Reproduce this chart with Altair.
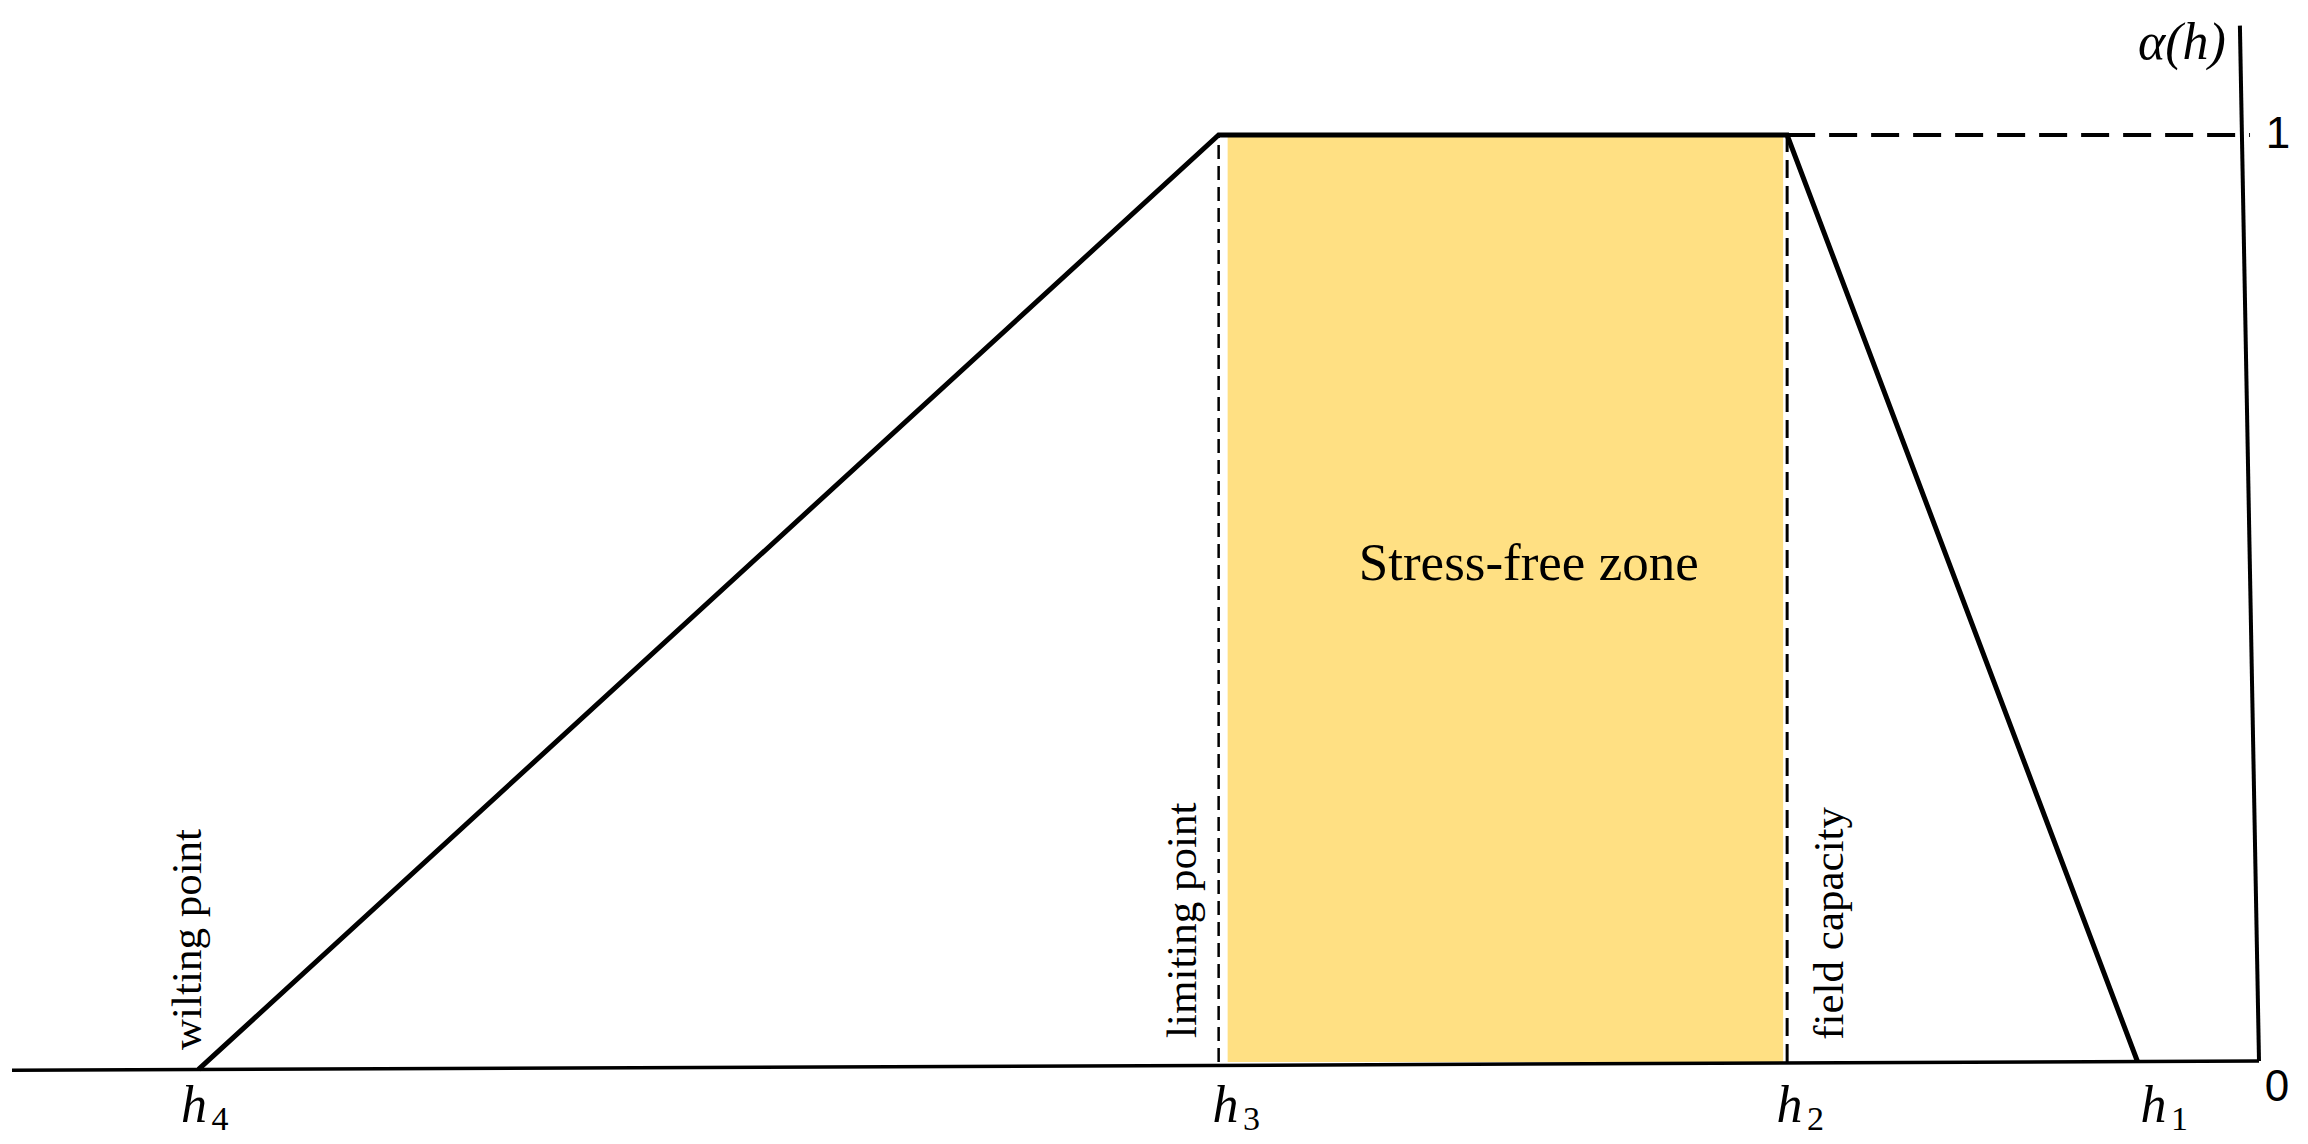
import altair as alt
import pandas as pd

# Schematic units: x = pressure head h (right axis h = 0 at x = 0, left end of baseline at -100)
# y = alpha(h), 0..1
h_names = ["h", "h", "h", "h"]
h_subs = ["4", "3", "2", "1"]
h_pos = [-91.7, -46.3, -21.0, -5.4]
h_label_x = [-91.9, -46.0, -20.9, -4.7]
h_label_y = [-0.065, -0.065, -0.065, -0.065]

curve_x = [-91.7, -46.3, -21.0, -5.4]
curve_y = [-0.008, 1.0, 1.0, 0.0]

base_x = [-100.0, 0.0]
base_y = [-0.009, 0.001]

axis_x = [0.0, -0.85]
axis_y = [0.001, 1.118]

zone_x = [-46.3, -21.0]
zone_y = [0.0, 1.0]

top_dash_x = [-21.0, -0.4]
top_dash_y = [1.0, 1.0]

vert_text = ["wilting point", "limiting point", "field capacity"]
vert_x = [-92.15, -47.9, -19.1]
vert_y = [0.013, 0.026, 0.024]

tick_text = ["0", "1"]
tick_x = [0.8, 0.85]
tick_y = [-0.028, 1.0]

zone_label = ["Stress-free zone"]
zone_label_x = [-32.5]
zone_label_y = [0.537]

ylab_text = ["α(h)"]
ylab_x = [-3.43]
ylab_y = [1.099]

XS = alt.Scale(domain=[-100, 0], range=[4, 2251], nice=False, zero=False)
YS = alt.Scale(domain=[0, 1], range=[1054, 127], nice=False, zero=False)


def X(f="x"):
    return alt.X(f"{f}:Q", scale=XS, axis=None)


def Y(f="y"):
    return alt.Y(f"{f}:Q", scale=YS, axis=None)


zone_df = pd.DataFrame({"x": [zone_x[0]], "x2": [zone_x[1]], "y": [zone_y[0]], "y2": [zone_y[1]]})
zone = alt.Chart(zone_df).mark_rect(color="#FFE083", xOffset=9, x2Offset=-4).encode(
    x=X(), x2="x2:Q", y=Y(), y2="y2:Q"
)

v_df3 = pd.DataFrame({"x": [h_pos[1]], "y": [0.0], "y2": [1.0]})
v3 = alt.Chart(v_df3).mark_rule(color="black", strokeWidth=2.5, strokeDash=[14, 7]).encode(
    x=X(), y=Y(), y2="y2:Q"
)
v_df2 = pd.DataFrame({"x": [h_pos[2]], "y": [0.0], "y2": [1.0]})
v2 = alt.Chart(v_df2).mark_rule(color="black", strokeWidth=3, strokeDash=[18, 8]).encode(
    x=X(), y=Y(), y2="y2:Q"
)

td_df = pd.DataFrame({"x": [top_dash_x[0]], "x2": [top_dash_x[1]], "y": [top_dash_y[0]]})
topdash = alt.Chart(td_df).mark_rule(color="black", strokeWidth=4, strokeDash=[28, 14]).encode(
    x=X(), x2="x2:Q", y=Y()
)

base_df = pd.DataFrame({"x": [base_x[0]], "x2": [base_x[1]], "y": [base_y[0]], "y2": [base_y[1]]})
base = alt.Chart(base_df).mark_rule(color="black", strokeWidth=3.5).encode(
    x=X(), x2="x2:Q", y=Y(), y2="y2:Q"
)

ax_df = pd.DataFrame({"x": [axis_x[0]], "x2": [axis_x[1]], "y": [axis_y[0]], "y2": [axis_y[1]]})
axl = alt.Chart(ax_df).mark_rule(color="black", strokeWidth=4).encode(
    x=X(), x2="x2:Q", y=Y(), y2="y2:Q"
)

curve_df = pd.DataFrame({"x": curve_x, "y": curve_y, "o": list(range(len(curve_x)))})
curve = alt.Chart(curve_df).mark_line(color="black", strokeWidth=5, strokeJoin="miter").encode(
    x=X(), y=Y(), order="o:Q"
)

vt_df = pd.DataFrame({"t": vert_text, "x": vert_x, "y": vert_y})
vt = alt.Chart(vt_df).mark_text(
    angle=270, align="left", baseline="middle", font="Liberation Serif", fontSize=43, color="black"
).encode(x=X(), y=Y(), text="t:N")

hl_df = pd.DataFrame({"t": h_names, "s": h_subs, "x": h_label_x, "y": h_label_y})
hl = alt.Chart(hl_df).mark_text(
    align="center", baseline="alphabetic", font="Liberation Serif", fontStyle="italic",
    fontSize=52, color="black"
).encode(x=X(), y=Y(), text="t:N")
hs = alt.Chart(hl_df).mark_text(
    align="center", baseline="alphabetic", font="Liberation Serif", fontSize=34,
    color="black", dx=26, dy=8
).encode(x=X(), y=Y(), text="s:N")

tk_df = pd.DataFrame({"t": tick_text, "x": tick_x, "y": tick_y})
tk = alt.Chart(tk_df).mark_text(
    align="center", baseline="middle", font="Liberation Sans", fontSize=44, color="black"
).encode(x=X(), y=Y(), text="t:N")

zl_df = pd.DataFrame({"t": zone_label, "x": zone_label_x, "y": zone_label_y})
zl = alt.Chart(zl_df).mark_text(
    align="center", baseline="middle", font="Liberation Serif", fontSize=53, color="black"
).encode(x=X(), y=Y(), text="t:N")

yl_df = pd.DataFrame({"t": ylab_text, "x": ylab_x, "y": ylab_y})
yl = alt.Chart(yl_df).mark_text(
    align="center", baseline="middle", font="Liberation Serif", fontStyle="italic",
    fontSize=52, color="black"
).encode(x=X(), y=Y(), text="t:N")

chart = alt.layer(
    zone, v3, v2, topdash, base, axl, curve, vt, hl, hs, tk, zl, yl
).properties(width=2292, height=1128, padding=0).configure_view(strokeWidth=0)

chart.save("out.html", embed_options={"renderer": "svg", "actions": False})
